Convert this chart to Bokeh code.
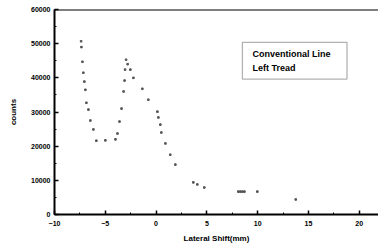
from bokeh.plotting import figure
from bokeh.models import (Range1d, LinearAxis, SingleIntervalTicker, Span,
                          BoxAnnotation, Label, ColumnDataSource)
from bokeh.embed import file_html
from bokeh.resources import INLINE

# data
shift_mm = [-7.38, -7.35, -7.25, -7.16, -7.06, -6.96, -6.86, -6.66, -6.47, -6.17,
            -5.88, -4.99, -4.0, -3.8, -3.6, -3.4, -3.2, -3.1, -3.05, -2.95,
            -2.8, -2.53, -2.23, -1.35, -0.76, 0.13, 0.23, 0.42, 0.52, 0.92,
            1.4, 1.9, 3.67, 4.06, 4.75, 8.1, 8.3, 8.5, 8.7, 9.97, 13.75]
counts = [50700, 49000, 44700, 41500, 38900, 36500, 32700, 30700, 27500, 24900,
          21600, 21700, 22000, 23700, 27200, 31000, 36000, 39200, 42400, 45300,
          44000, 42400, 40000, 36800, 33600, 30100, 28400, 26300, 24000, 20800,
          17500, 14600, 9400, 8800, 7900, 6700, 6700, 6700, 6700, 6700, 4400]
legend_lines = ["Conventional Line", "Left Tread"]
x_label = "Lateral Shift(mm)"
y_label = "counts"

FONT = "Liberation Sans"

p = figure(width=378, height=245, output_backend="svg", toolbar_location=None,
           x_range=Range1d(-10, 21.9), y_range=Range1d(0, 60000),
           x_axis_location=None, y_axis_location=None,
           min_border_left=54, min_border_right=0, min_border_top=9,
           min_border_bottom=30)
p.outline_line_color = None
p.grid.visible = False
p.background_fill_color = "white"
p.border_fill_color = "white"

xaxis = LinearAxis(ticker=SingleIntervalTicker(interval=5, num_minor_ticks=2),
                   axis_label=x_label)
yaxis = LinearAxis(ticker=SingleIntervalTicker(interval=10000, num_minor_ticks=2),
                   axis_label=y_label)
for ax in (xaxis, yaxis):
    ax.axis_line_width = 2
    ax.axis_line_color = "black"
    ax.major_tick_in = 4
    ax.major_tick_out = 0
    ax.minor_tick_in = 2
    ax.minor_tick_out = 0
    ax.major_tick_line_width = 1.5
    ax.major_label_text_font = FONT
    ax.major_label_text_font_style = "bold"
    ax.major_label_text_font_size = "7px"
    ax.major_label_text_color = "black"
    ax.axis_label_text_font = FONT
    ax.axis_label_text_font_style = "bold"
    ax.axis_label_text_font_size = "8px"
    ax.axis_label_text_color = "black"
xaxis.major_label_standoff = 6
xaxis.axis_label_standoff = 5
yaxis.major_label_standoff = 4
yaxis.axis_label_standoff = 10
p.add_layout(xaxis, "below")
p.add_layout(yaxis, "left")

p.add_layout(Span(location=60000, dimension="width", line_color="black",
                  line_width=2))

src = ColumnDataSource(dict(x=shift_mm, y=counts))
p.scatter("x", "y", source=src, marker="square", size=1.6, color="#555555")

p.add_layout(BoxAnnotation(left=8.5, right=18.8, bottom=39650, top=50400,
                           fill_color=None, line_color="black", line_width=1.3))
p.add_layout(Label(x=9.5, y=46900, text=legend_lines[0], text_font=FONT,
                   text_font_style="bold", text_font_size="9px",
                   text_baseline="middle", text_color="black"))
p.add_layout(Label(x=9.5, y=42860, text=legend_lines[1], text_font=FONT,
                   text_font_style="bold", text_font_size="9px",
                   text_baseline="middle", text_color="black"))

open("out.html", "w").write(file_html(p, INLINE))
